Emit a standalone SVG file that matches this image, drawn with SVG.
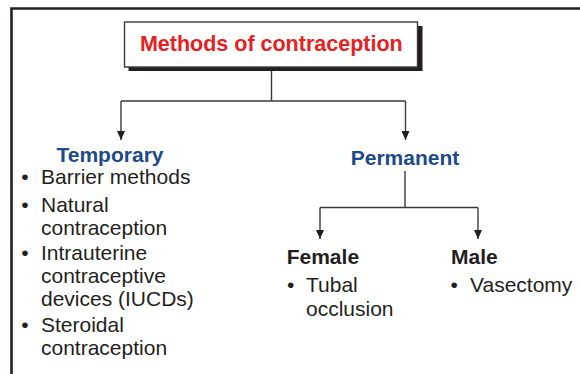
<svg xmlns="http://www.w3.org/2000/svg" width="580" height="374" viewBox="0 0 580 374">
<defs>
<marker id="ah" markerWidth="9" markerHeight="8" refX="9" refY="4" orient="auto" markerUnits="userSpaceOnUse" viewBox="0 0 9 8">
<path d="M0,0 L9,4 L0,8 Z" fill="#231f20"/>
</marker>
<style>
text{font-family:"Liberation Sans",Arial,sans-serif;}
.title{font-size:21.5px;font-weight:bold;fill:#e8201e;}
.head{font-size:21px;font-weight:bold;fill:#1c4a8a;}
.sub{font-size:21px;font-weight:bold;fill:#231f20;}
.item{font-size:21px;fill:#231f20;}
.ln{fill:none;stroke:#3a3a3a;stroke-width:1.4;}
</style>
</defs>
<rect width="580" height="374" fill="#ffffff"/>
<path d="M11.5,380 V8.5 H590" fill="none" stroke="#231f20" stroke-width="2.6"/>
<g id="connectors">
<path class="ln" d="M271.5,67 V101"/>
<path class="ln" d="M121,101 H405.5"/>
<path class="ln" d="M121,101 V140" marker-end="url(#ah)"/>
<path class="ln" d="M405.5,101 V140" marker-end="url(#ah)"/>
<path class="ln" d="M405,171 V207.5"/>
<path class="ln" d="M320,207.5 H478"/>
<path class="ln" d="M320,207.5 V239" marker-end="url(#ah)"/>
<path class="ln" d="M478,207.5 V239" marker-end="url(#ah)"/>
</g>
<g id="root">
<rect x="128.5" y="26" width="294" height="45" fill="#231f20"/>
<rect x="124.5" y="22" width="293" height="45" fill="#ffffff" stroke="#3a3a3a" stroke-width="1.4"/>
<text class="title" x="271.3" y="50.5" text-anchor="middle">Methods of contraception</text>
</g>
<g id="temporary">
<text class="head" x="110" y="162.3" text-anchor="middle">Temporary</text>
<text class="item" x="21.3" y="184.3">•</text>
<text class="item" x="41" y="184.3">Barrier methods</text>
<text class="item" x="21.3" y="211.5">•</text>
<text class="item" x="41" y="211.5">Natural</text>
<text class="item" x="41" y="235.3">contraception</text>
<text class="item" x="21.3" y="259.5">•</text>
<text class="item" x="41" y="259.5">Intrauterine</text>
<text class="item" x="41" y="283">contraceptive</text>
<text class="item" x="41" y="306">devices (IUCDs)</text>
<text class="item" x="21.3" y="331.5">•</text>
<text class="item" x="41" y="331.5">Steroidal</text>
<text class="item" x="41" y="355">contraception</text>
</g>
<g id="permanent">
<text class="head" x="405" y="165" text-anchor="middle">Permanent</text>
</g>
<g id="female">
<text class="sub" x="286.7" y="264.3">Female</text>
<text class="item" x="287" y="292.3">•</text>
<text class="item" x="306" y="292.3">Tubal</text>
<text class="item" x="306" y="316">occlusion</text>
</g>
<g id="male">
<text class="sub" x="451" y="264.3">Male</text>
<text class="item" x="450.6" y="292.3">•</text>
<text class="item" x="470" y="292.3">Vasectomy</text>
</g>
</svg>
